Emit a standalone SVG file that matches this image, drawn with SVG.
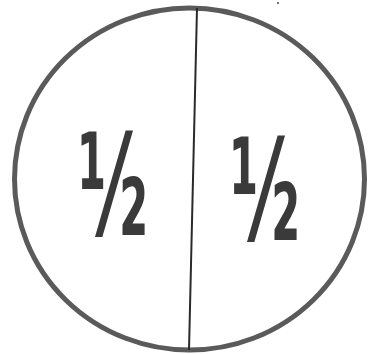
<svg xmlns="http://www.w3.org/2000/svg" width="369" height="354" viewBox="0 0 369 354">
<style>
.frac{font-family:"DejaVu Sans",sans-serif;font-size:140px;font-weight:bold;fill:#3a3a3a;text-anchor:middle}
</style>
<rect width="369" height="354" fill="#ffffff"/>
<g id="circle">
<ellipse cx="189.5" cy="179" rx="175" ry="171" fill="none" stroke="#5a5a5a" stroke-width="5"/>
</g>
<g id="connectors">
<line x1="197" y1="8" x2="189" y2="350" stroke="#2a2a2a" stroke-width="2"/>
</g>
<g id="left-half">
<text class="frac" transform="translate(113,235) scale(0.48,1)">½</text>
</g>
<g id="right-half">
<text class="frac" transform="translate(265,240) scale(0.48,1)">½</text>
</g>
<circle cx="278" cy="3" r="1" fill="#444"/>
</svg>
